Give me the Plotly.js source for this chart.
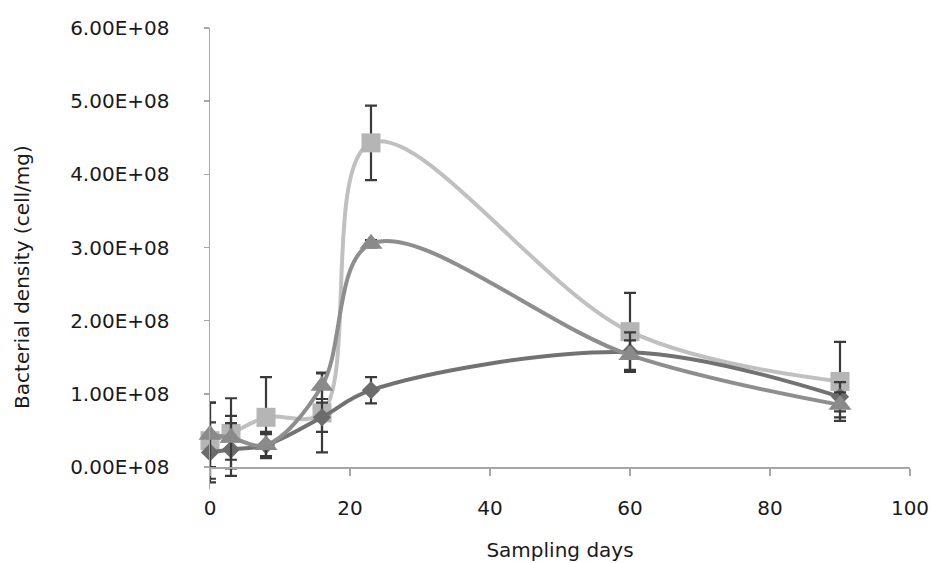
<!DOCTYPE html>
<html>
<head>
<meta charset="utf-8">
<script src="https://cdn.plot.ly/plotly-3.0.1.min.js"></script>
<style>
html,body{margin:0;padding:0;background:#fff;}
#chart{width:931px;height:563px;}
</style>
</head>
<body>
<div id="chart"></div>
<script>
// Sampling days
var days = [0, 3, 8, 16, 23, 60, 90];

// Series values (cell/mg)
var squareVals   = [0.36e8, 0.46e8, 0.68e8, 0.74e8, 4.43e8, 1.85e8, 1.17e8];
var squareErr    = [0.52e8, 0.48e8, 0.55e8, 0.54e8, 0.51e8, 0.53e8, 0.54e8];
var triangleVals = [0.44e8, 0.40e8, 0.30e8, 1.11e8, 3.05e8, 1.53e8, 0.85e8];
var triangleErr  = [0.44e8, 0.30e8, 0.15e8, 0.18e8, 0.05e8, 0.20e8, 0.17e8];
var diamondVals  = [0.20e8, 0.24e8, 0.30e8, 0.68e8, 1.05e8, 1.57e8, 0.96e8];
var diamondErr   = [0.41e8, 0.36e8, 0.18e8, 0.20e8, 0.18e8, 0.27e8, 0.20e8];

// Tick labels
var yTickVals  = [0, 1e8, 2e8, 3e8, 4e8, 5e8, 6e8];
var yTickText  = ["0.00E+08", "1.00E+08", "2.00E+08", "3.00E+08", "4.00E+08", "5.00E+08", "6.00E+08"];
var xTickVals  = [0, 20, 40, 60, 80, 100];
var xTitle = "Sampling days";
var yTitle = "Bacterial density (cell/mg)";

var FONT = "DejaVu Sans, Verdana, sans-serif";
var Y_MIN = -0.3e8, Y_MAX = 6e8;

function series(y, err, sym, size, lineColor, markerColor) {
  return {
    x: days, y: y, type: "scatter", mode: "lines+markers",
    cliponaxis: false,
    line: {shape: "spline", smoothing: 1, color: lineColor, width: 4},
    marker: {symbol: sym, size: size, color: markerColor},
    error_y: {type: "data", array: err, visible: true, color: "#3a3a3a", thickness: 2.2, width: 6},
    showlegend: false, hoverinfo: "x+y"
  };
}

var data = [
  series(squareVals, squareErr, "square", 19, "#c0c0c0", "#b5b5b5"),
  series(diamondVals, diamondErr, "diamond", 14, "#727272", "#6c6c6c"),
  series(triangleVals, triangleErr, "triangle-up", 20, "#8e8e8e", "#8a8a8a")
];

var layout = {
  width: 931, height: 563,
  margin: {l: 210, r: 21, t: 28, b: 74, pad: 0},
  paper_bgcolor: "#ffffff", plot_bgcolor: "#ffffff",
  font: {family: FONT, size: 20, color: "#1a1a1a"},
  xaxis: {
    range: [0, 100], tickvals: xTickVals,
    anchor: "free", position: (0 - Y_MIN) / (Y_MAX - Y_MIN),
    showgrid: false, zeroline: false,
    showline: true, linecolor: "#a6a6a6", linewidth: 1.5,
    ticks: "outside", ticklen: 7, tickcolor: "#a6a6a6", tickwidth: 1.5,
    ticklabelstandoff: 15,
    tickfont: {family: FONT, size: 20, color: "#1a1a1a"},
    title: {text: xTitle, standoff: 24, font: {family: FONT, size: 20, color: "#1a1a1a"}}
  },
  yaxis: {
    range: [Y_MIN, Y_MAX], tickvals: yTickVals, ticktext: yTickText,
    showgrid: false, zeroline: false,
    showline: true, linecolor: "#a6a6a6", linewidth: 1.5,
    ticks: "outside", ticklen: 5, tickcolor: "#a6a6a6", tickwidth: 1.5,
    ticklabelstandoff: 30,
    tickfont: {family: FONT, size: 20, color: "#1a1a1a"}
  },
  annotations: [{
    text: yTitle, textangle: -90, showarrow: false,
    xref: "paper", yref: "paper", x: -0.2686, y: 0.46,
    xanchor: "center", yanchor: "middle",
    font: {family: FONT, size: 20, color: "#1a1a1a"}
  }]
};

Plotly.newPlot("chart", data, layout, {displayModeBar: false, staticPlot: true});
</script>
</body>
</html>
